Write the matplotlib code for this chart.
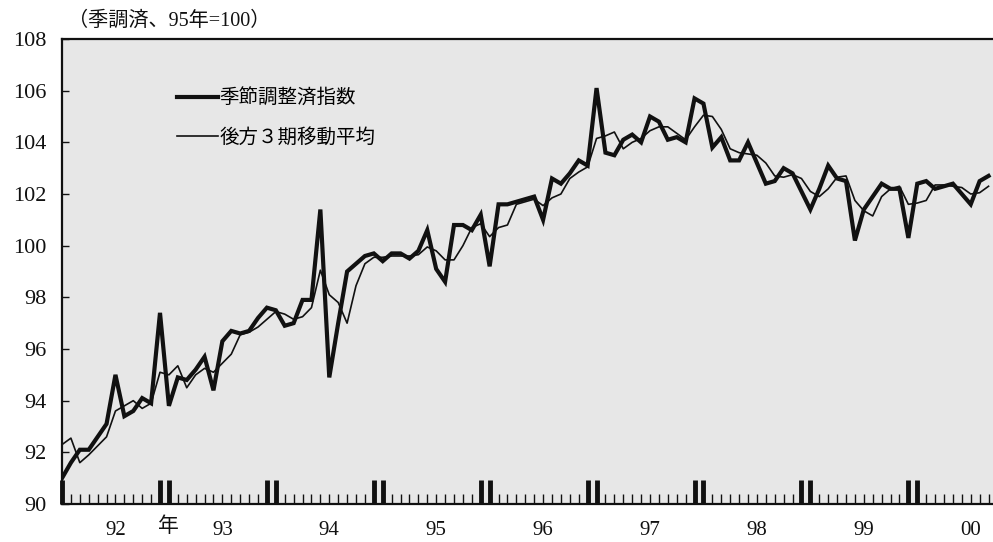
import matplotlib
matplotlib.use("Agg")
import matplotlib.pyplot as plt

plt.rcParams["font.family"] = ["Liberation Serif", "Noto Sans CJK JP"]

# monthly index, 0 = Jan 92
MONTHS = list(range(105))

# seasonally adjusted index (thick line)
SA_INDEX = [
    91.0, 91.6, 92.1, 92.1, 92.6, 93.1, 95.0, 93.4, 93.6, 94.1, 93.9, 97.4,
    93.8, 94.9, 94.8, 95.2, 95.7, 94.4, 96.3, 96.7, 96.6, 96.7, 97.2, 97.6,
    97.5, 96.9, 97.0, 97.9, 97.9, 101.4, 94.9, 97.0, 99.0, 99.3, 99.6, 99.7,
    99.4, 99.7, 99.7, 99.5, 99.8, 100.6, 99.1, 98.6, 100.8, 100.8, 100.6, 101.2,
    99.2, 101.6, 101.6, 101.7, 101.8, 101.9, 101.0, 102.6, 102.4, 102.8, 103.3, 103.1,
    106.1, 103.6, 103.5, 104.1, 104.3, 104.0, 105.0, 104.8, 104.1, 104.2, 104.0, 105.7,
    105.5, 103.8, 104.2, 103.3, 103.3, 104.0, 103.2, 102.4, 102.5, 103.0, 102.8, 102.1,
    101.4, 102.2, 103.1, 102.6, 102.5, 100.2, 101.4, 101.9, 102.4, 102.2, 102.2, 100.3,
    102.4, 102.5, 102.2, 102.3, 102.4, 102.0, 101.6, 102.5, 102.7,
]

# backward 3-month moving average (thin line)
MA3 = [
    92.3, 92.55, 91.6, 91.9, 92.25, 92.6, 93.6, 93.8, 94.0, 93.7, 93.9, 95.1,
    95.0, 95.35, 94.5, 95.0, 95.25, 95.1, 95.45, 95.8, 96.55, 96.65, 96.85, 97.15,
    97.45, 97.35, 97.15, 97.25, 97.6, 99.05, 98.1, 97.8, 97.0, 98.45, 99.3, 99.55,
    99.55, 99.6, 99.6, 99.6, 99.65, 99.95, 99.8, 99.45, 99.45, 100.0, 100.7, 100.85,
    100.35, 100.7, 100.8, 101.6, 101.7, 101.8, 101.55, 101.85, 102.0, 102.6, 102.85, 103.05,
    104.15, 104.25, 104.4, 103.75, 104.0, 104.15, 104.45, 104.6, 104.6, 104.35, 104.1, 104.6,
    105.05, 105.0, 104.5, 103.75, 103.6, 103.55, 103.5, 103.2, 102.7, 102.65, 102.75, 102.6,
    102.1, 101.9, 102.2, 102.65, 102.7, 101.75, 101.35, 101.15, 101.9, 102.2, 102.3, 101.6,
    101.65, 101.75, 102.35, 102.35, 102.3, 102.25, 102.0, 102.05, 102.3,
]

YEAR_LABELS = ["92", "93", "94", "95", "96", "97", "98", "99", "00"]
YEAR_POS = [6, 18, 30, 42, 54, 66, 78, 90, 102]
# double marks at the year boundaries (Dec / Jan)
BREAKS = [0, 11, 12, 23, 24, 35, 36, 47, 48, 59, 60, 71, 72, 83, 84, 95, 96]

W, H = 993, 542
fig = plt.figure(figsize=(W / 100, H / 100), dpi=100)
ax = fig.add_axes([62 / W, 38 / H, 931 / W, 465 / H])
ax.set_facecolor("#e7e7e7")

ax.plot(MONTHS, SA_INDEX, color="#111111", lw=3.0, solid_joinstyle="miter",
        label="季節調整済指数")
ax.plot(MONTHS, MA3, color="#111111", lw=1.2, label="後方３期移動平均")

ax.set_xlim(0, 104.5)
ax.set_ylim(90, 108)

# y axis
ax.set_yticks(range(90, 109, 2))
ax.tick_params(axis="y", direction="in", length=5, width=1, pad=11,
               labelsize=16, colors="#111111")

# x axis: monthly small ticks, thick double ticks at year change
ax.set_xticks(BREAKS)
ax.set_xticklabels([])
ax.set_xticks(MONTHS, minor=True)
ax.tick_params(axis="x", which="major", direction="in", length=17, width=3.5,
               color="#111111")
ax.tick_params(axis="x", which="minor", direction="in", length=7, width=1,
               color="#111111")

tr = ax.get_xaxis_transform()
for pos, lab in zip(YEAR_POS, YEAR_LABELS):
    ax.text(pos, -0.058, lab, transform=tr, ha="center", va="center",
            fontsize=15, color="#111111")
ax.text(12, -0.05, "年", transform=tr, ha="center", va="center",
        fontsize=15, color="#111111")

for side in ("left", "top", "bottom"):
    ax.spines[side].set_linewidth(1.6)
    ax.spines[side].set_color("#111111")
ax.spines["right"].set_visible(False)

fig.text(68 / W, 1 - 21 / H, "（季調済、95年=100）", ha="left", va="center",
         fontsize=14.5, color="#111111")

ax.legend(loc="upper left", bbox_to_anchor=(0.1235, 0.892), frameon=False,
          fontsize=14, handlelength=2.1, handletextpad=0.1, borderpad=0,
          borderaxespad=0, labelspacing=1.0)

fig.savefig("out.png", dpi=100)
